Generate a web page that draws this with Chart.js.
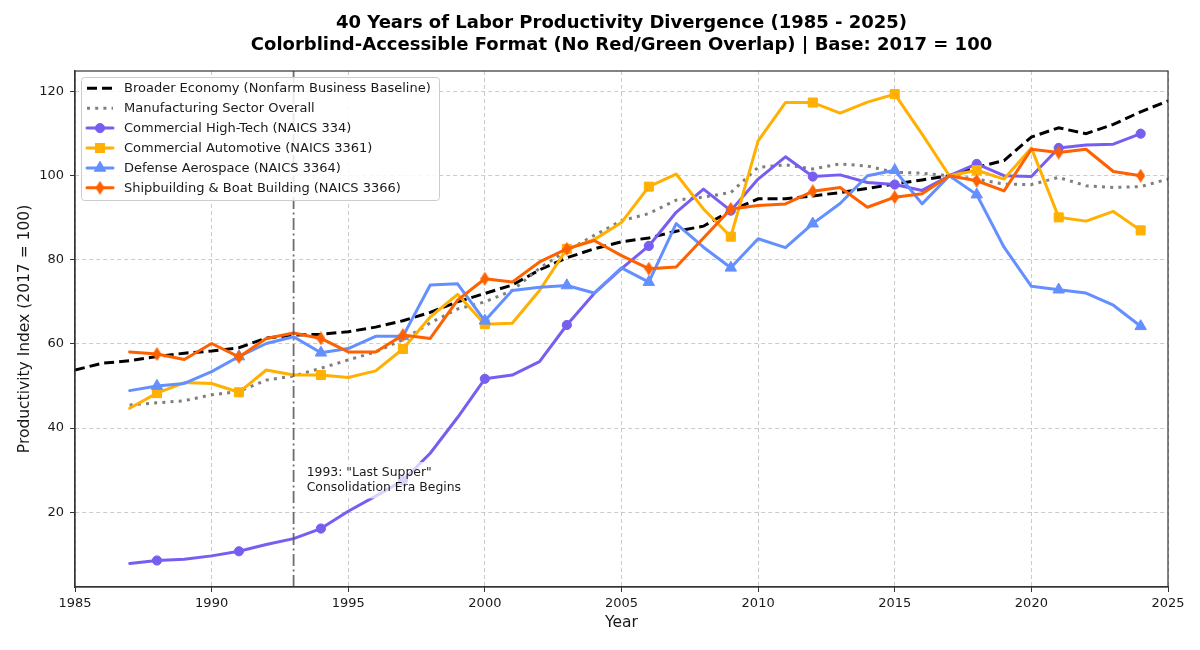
<!DOCTYPE html>
<html>
<head>
<meta charset="utf-8">
<script src="https://cdn.jsdelivr.net/npm/chart.js@4.4.1/dist/chart.umd.min.js"></script>
<style>
  html, body { margin: 0; padding: 0; background: #ffffff; }
  #wrap { width: 1200px; height: 650px; }
</style>
</head>
<body>
<div id="wrap"><canvas id="c" width="1200" height="650"></canvas></div>
<script>
// ---------------- DATA ----------------
const titleLines = [
  "40 Years of Labor Productivity Divergence (1985 - 2025)",
  "Colorblind-Accessible Format (No Red/Green Overlap) | Base: 2017 = 100"
];
const xAxisTitle = "Year";
const yAxisTitle = "Productivity Index (2017 = 100)";
const annotationLines = ["1993: \"Last Supper\"", "Consolidation Era Begins"];
const eventYear = 1993;

const xTicks = [1985, 1990, 1995, 2000, 2005, 2010, 2015, 2020, 2025];
const xTickLabels = ["1985", "1990", "1995", "2000", "2005", "2010", "2015", "2020", "2025"];
const yTicks = [20, 40, 60, 80, 100, 120];
const yTickLabels = ["20", "40", "60", "80", "100", "120"];

const economyYears = [1985, 1986, 1987, 1988, 1989, 1990, 1991, 1992, 1993, 1994,
  1995, 1996, 1997, 1998, 1999, 2000, 2001, 2002, 2003, 2004,
  2005, 2006, 2007, 2008, 2009, 2010, 2011, 2012, 2013, 2014,
  2015, 2016, 2017, 2018, 2019, 2020, 2021, 2022, 2023, 2024, 2025];
const manufacturingYears = [1987, 1988, 1989, 1990, 1991, 1992, 1993, 1994,
  1995, 1996, 1997, 1998, 1999, 2000, 2001, 2002, 2003, 2004,
  2005, 2006, 2007, 2008, 2009, 2010, 2011, 2012, 2013, 2014,
  2015, 2016, 2017, 2018, 2019, 2020, 2021, 2022, 2023, 2024, 2025];
const sectorYears = [1987, 1988, 1989, 1990, 1991, 1992, 1993, 1994,
  1995, 1996, 1997, 1998, 1999, 2000, 2001, 2002, 2003, 2004,
  2005, 2006, 2007, 2008, 2009, 2010, 2011, 2012, 2013, 2014,
  2015, 2016, 2017, 2018, 2019, 2020, 2021, 2022, 2023, 2024];

const broaderEconomy = [53.8, 55.4, 56.0, 57.0, 57.8, 58.3, 59.1, 61.4, 62.1, 62.3,
  62.9, 64.0, 65.5, 67.5, 70.0, 72.0, 74.0, 77.6, 80.5, 82.6,
  84.3, 85.2, 86.8, 88.0, 91.7, 94.5, 94.5, 95.2, 96.0, 97.0,
  98.0, 99.0, 100.0, 102.0, 103.6, 109.2, 111.4, 110.0, 112.2, 115.2, 117.8];
const manufacturing = [45.5, 46.0, 46.5, 47.9, 48.7, 51.4, 52.4, 54.2,
  56.2, 58.1, 61.0, 65.0, 68.3, 70.0, 72.7, 78.0, 82.2, 85.8,
  89.3, 91.0, 94.2, 94.9, 96.0, 102.0, 102.6, 101.6, 102.8, 102.3,
  100.8, 100.6, 100.0, 99.2, 98.0, 97.9, 99.6, 97.6, 97.2, 97.4, 99.2];
const highTech = [7.8, 8.5, 8.8, 9.6, 10.7, 12.3, 13.7, 16.1,
  20.2, 23.8, 27.5, 34.0, 42.5, 51.7, 52.6, 55.8, 64.5, 72.0,
  77.9, 83.3, 91.3, 96.8, 91.7, 99.2, 104.5, 99.8, 100.2, 98.4,
  97.9, 96.5, 100.0, 102.8, 100.0, 99.8, 106.6, 107.3, 107.5, 110.0];
const automotive = [44.7, 48.3, 50.8, 50.6, 48.5, 53.8, 52.6, 52.6,
  52.0, 53.6, 58.8, 66.4, 71.8, 64.7, 64.9, 72.7, 82.6, 84.8,
  88.9, 97.4, 100.4, 92.1, 85.5, 108.3, 117.4, 117.4, 114.9, 117.5,
  119.4, 109.9, 100.0, 101.3, 99.2, 106.6, 90.1, 89.2, 91.5, 87.0];
const aerospace = [48.9, 50.0, 50.6, 53.4, 57.0, 60.1, 61.7, 57.9,
  58.9, 61.8, 61.8, 74.0, 74.3, 65.5, 72.7, 73.5, 73.9, 72.1,
  78.1, 74.7, 88.6, 83.0, 78.1, 85.0, 82.9, 88.6, 93.4, 100.0,
  101.3, 93.3, 100.0, 95.5, 83.0, 73.7, 72.9, 72.1, 69.2, 64.2];
const shipbuilding = [58.1, 57.6, 56.3, 60.1, 56.9, 61.3, 62.6, 61.3,
  58.1, 58.1, 62.1, 61.3, 70.4, 75.5, 74.7, 79.5, 82.6, 84.6,
  81.0, 77.9, 78.3, 85.2, 92.1, 92.9, 93.3, 96.3, 97.2, 92.5,
  94.9, 95.7, 100.0, 98.8, 96.4, 106.3, 105.5, 106.3, 101.0, 100.0];

const seriesLabels = [
  "Broader Economy (Nonfarm Business Baseline)",
  "Manufacturing Sector Overall",
  "Commercial High-Tech (NAICS 334)",
  "Commercial Automotive (NAICS 3361)",
  "Defense Aerospace (NAICS 3364)",
  "Shipbuilding & Boat Building (NAICS 3366)"
];

// ---------------- STYLE / HELPERS ----------------
const FONT = "'DejaVu Sans', 'Liberation Sans', sans-serif";
function pts(years, vals) { return vals.map((v, i) => ({ x: years[i], y: v })); }

// thin diamond marker (matplotlib 'd')
function makeDiamond(color, w, h) {
  const c = document.createElement('canvas');
  c.width = w; c.height = h;
  const g = c.getContext('2d');
  g.fillStyle = color;
  g.beginPath();
  g.moveTo(w / 2, 0); g.lineTo(w, h / 2); g.lineTo(w / 2, h); g.lineTo(0, h / 2);
  g.closePath(); g.fill();
  return c;
}
const diamondImg = makeDiamond('#FE6100', 9, 14);

function markerRadius(r) { return ctx => (ctx.dataIndex % 3 === 1 ? r : 0); }

function sectorDataset(label, vals, color, style, r, order) {
  return {
    label, data: pts(sectorYears, vals),
    borderColor: color, backgroundColor: color,
    borderWidth: 3, borderJoinStyle: 'round', borderCapStyle: 'round',
    pointStyle: style, pointRadius: markerRadius(r), pointHoverRadius: markerRadius(r),
    pointBackgroundColor: color, pointBorderColor: color, pointBorderWidth: 1,
    tension: 0, order,
    legendMarker: { style, r, color }
  };
}

const datasets = [
  {
    label: seriesLabels[0], data: pts(economyYears, broaderEconomy),
    borderColor: '#000000', borderWidth: 3, borderDash: [10, 5], borderCapStyle: 'butt',
    pointRadius: 0, tension: 0, order: 6
  },
  {
    label: seriesLabels[1], data: pts(manufacturingYears, manufacturing),
    borderColor: '#7f7f7f', borderWidth: 3, borderDash: [3, 5.2], borderCapStyle: 'butt',
    pointRadius: 0, tension: 0, order: 5
  },
  sectorDataset(seriesLabels[2], highTech, '#785EF0', 'circle', 4.6, 4),
  sectorDataset(seriesLabels[3], automotive, '#FFB000', 'rect', 6.4, 3),
  sectorDataset(seriesLabels[4], aerospace, '#648FFF', 'triangle', 6.6, 2),
  sectorDataset(seriesLabels[5], shipbuilding, '#FE6100', diamondImg, 7, 1)
];

// ---------------- PLUGINS ----------------
const bgPlugin = {
  id: 'bg',
  beforeDraw(chart) {
    const c = chart.ctx;
    c.save(); c.fillStyle = '#ffffff'; c.fillRect(0, 0, chart.width, chart.height); c.restore();
  }
};

const eventPlugin = {
  id: 'eventLine',
  afterDatasetsDraw(chart) {
    const c = chart.ctx, a = chart.chartArea;
    const xs = chart.scales.x, ys = chart.scales.y;
    const x = xs.getPixelForValue(eventYear);
    c.save();
    c.strokeStyle = 'rgba(85,85,85,0.85)';
    c.lineWidth = 1.8;
    c.setLineDash([12, 3.5, 2, 3.5]);
    c.beginPath(); c.moveTo(x, a.top); c.lineTo(x, a.bottom); c.stroke();
    c.setLineDash([]);
    // annotation with semi-transparent box
    c.font = `12.4px ${FONT}`;
    const tx = xs.getPixelForValue(eventYear + 0.48);
    const ty = ys.getPixelForValue(29.3);
    const lh = 14.4;
    const w = Math.max(...annotationLines.map(t => c.measureText(t).width));
    c.fillStyle = 'rgba(255,255,255,0.72)';
    c.fillRect(tx - 4, ty - 11, w + 8, lh * (annotationLines.length - 1) + 22);
    c.fillStyle = '#1a1a1a';
    c.textBaseline = 'middle'; c.textAlign = 'left';
    annotationLines.forEach((t, i) => c.fillText(t, tx, ty + i * lh));
    c.restore();
  }
};

function drawMarker(c, m, x, y) {
  c.save();
  c.fillStyle = m.color; c.strokeStyle = m.color; c.lineWidth = 1;
  if (m.style === 'circle') {
    c.beginPath(); c.arc(x, y, m.r, 0, Math.PI * 2); c.fill(); c.stroke();
  } else if (m.style === 'rect') {
    const s = m.r * Math.SQRT1_2;
    c.fillRect(x - s, y - s, 2 * s, 2 * s); c.strokeRect(x - s, y - s, 2 * s, 2 * s);
  } else if (m.style === 'triangle') {
    const r = m.r;
    c.beginPath();
    c.moveTo(x, y - r);
    c.lineTo(x + r * Math.sin(2 * Math.PI / 3), y - r * Math.cos(2 * Math.PI / 3));
    c.lineTo(x + r * Math.sin(4 * Math.PI / 3), y - r * Math.cos(4 * Math.PI / 3));
    c.closePath(); c.fill(); c.stroke();
  } else if (m.style instanceof HTMLCanvasElement) {
    c.drawImage(m.style, x - m.style.width / 2, y - m.style.height / 2);
  }
  c.restore();
}

const legendPlugin = {
  id: 'customLegend',
  afterDraw(chart) {
    const c = chart.ctx;
    const bx = 81.5, by = 77.5, bw = 358, bh = 123;
    c.save();
    c.fillStyle = 'rgba(255,255,255,0.85)';
    c.strokeStyle = '#cccccc';
    c.lineWidth = 1;
    c.beginPath();
    if (c.roundRect) c.roundRect(bx, by, bw, bh, 3); else c.rect(bx, by, bw, bh);
    c.fill(); c.stroke();
    c.font = `13px ${FONT}`;
    c.textBaseline = 'middle'; c.textAlign = 'left';
    chart.data.datasets.forEach((ds, i) => {
      const y = 88.3 + i * 19.9;
      c.save();
      c.strokeStyle = ds.borderColor;
      c.lineWidth = ds.borderWidth;
      c.lineCap = ds.borderCapStyle || 'butt';
      c.setLineDash(ds.borderDash || []);
      c.beginPath(); c.moveTo(87, y); c.lineTo(113, y); c.stroke();
      c.restore();
      if (ds.legendMarker) drawMarker(c, ds.legendMarker, 100, y);
      c.fillStyle = '#1a1a1a';
      c.fillText(ds.label, 124, y + 0.5);
    });
    c.restore();
  }
};

const framePlugin = {
  id: 'frameTitle',
  afterDraw(chart) {
    const c = chart.ctx, a = chart.chartArea;
    c.save();
    c.strokeStyle = '#333333'; c.lineWidth = 1.2;
    c.strokeRect(a.left, a.top, a.right - a.left, a.bottom - a.top);
    c.fillStyle = '#000000';
    c.font = `bold 18px ${FONT}`;
    c.textAlign = 'center'; c.textBaseline = 'middle';
    const cx = (a.left + a.right) / 2;
    c.fillText(titleLines[0], cx, 23);
    c.fillText(titleLines[1], cx, 45);
    c.restore();
  }
};

// ---------------- CHART ----------------
new Chart(document.getElementById('c').getContext('2d'), {
  type: 'line',
  data: { datasets },
  options: {
    responsive: false,
    animation: false,
    devicePixelRatio: 1,
    layout: { padding: { left: 0, right: 32, top: 71, bottom: 0 } },
    plugins: { legend: { display: false }, tooltip: { enabled: false }, title: { display: false } },
    elements: { line: { fill: false } },
    scales: {
      x: {
        type: 'linear', min: 1985, max: 2025,
        afterBuildTicks: s => { s.ticks = xTicks.map(v => ({ value: v })); },
        afterFit: s => { s.height = 63; },
        ticks: {
          font: { family: FONT, size: 13 }, color: '#1a1a1a', padding: 4,
          maxRotation: 0, autoSkip: false,
          callback: (v) => xTickLabels[xTicks.indexOf(v)] ?? ''
        },
        grid: { color: 'rgba(175,175,175,0.65)', lineWidth: 1, tickLength: 5, tickColor: '#333333', drawTicks: true },
        border: { display: true, color: '#333333', width: 1.2, dash: [4, 3] },
        title: { display: true, text: xAxisTitle, font: { family: FONT, size: 15.5 }, color: '#1a1a1a', padding: { top: 0, bottom: 17.7 } }
      },
      y: {
        type: 'linear', min: 2.2, max: 124.9,
        afterBuildTicks: s => { s.ticks = yTicks.map(v => ({ value: v })); },
        afterFit: s => { s.width = 75; },
        ticks: {
          font: { family: FONT, size: 13 }, color: '#1a1a1a', padding: 6,
          autoSkip: false,
          callback: (v) => yTickLabels[yTicks.indexOf(v)] ?? ''
        },
        grid: { color: 'rgba(175,175,175,0.65)', lineWidth: 1, tickLength: 5, tickColor: '#333333', drawTicks: true },
        border: { display: true, color: '#333333', width: 1.2, dash: [4, 3] },
        title: { display: true, text: yAxisTitle, font: { family: FONT, size: 15.5 }, color: '#1a1a1a', padding: { top: 15.7, bottom: 0 } }
      }
    }
  },
  plugins: [bgPlugin, eventPlugin, legendPlugin, framePlugin]
});
</script>
</body>
</html>
